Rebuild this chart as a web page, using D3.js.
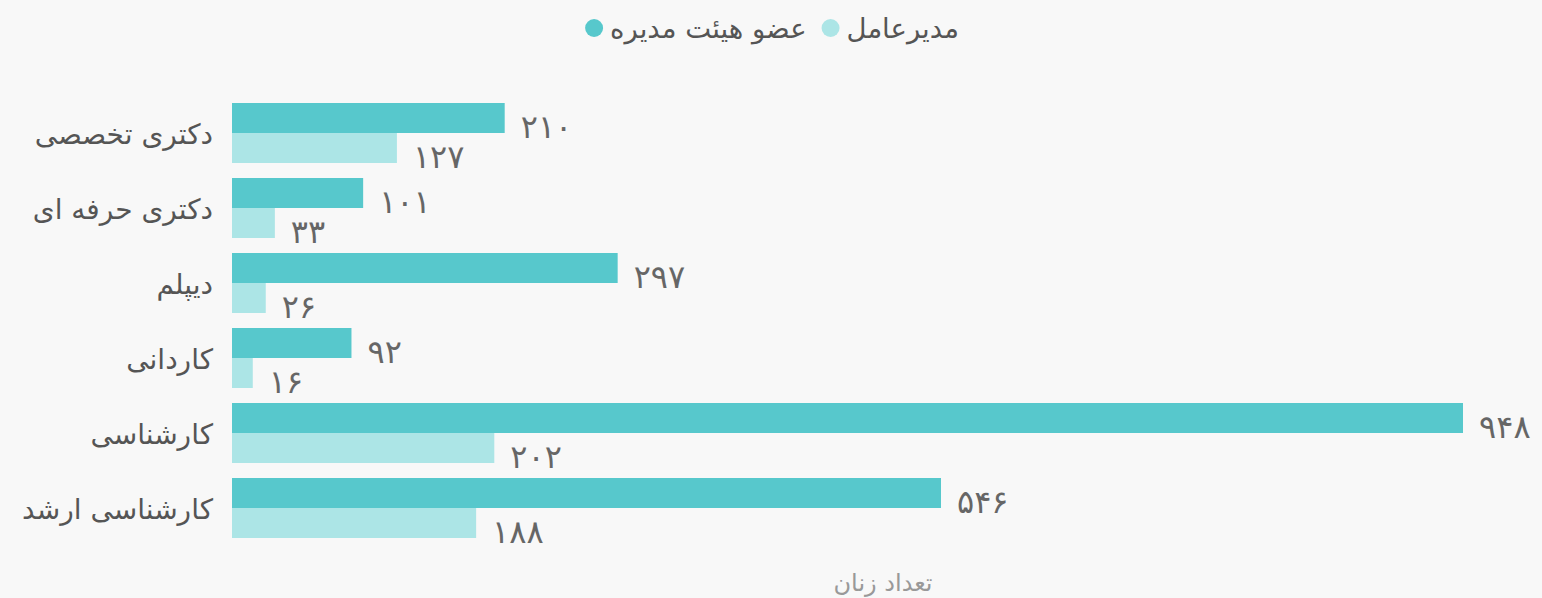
<!DOCTYPE html>
<html>
<head>
<meta charset="UTF-8">
<title>تعداد زنان</title>
<script src="https://cdn.jsdelivr.net/npm/d3@7"></script>
<style>
  html, body { margin: 0; padding: 0; background: #f8f8f8; }
  svg { display: block; font-family: "DejaVu Sans", sans-serif; }
</style>
</head>
<body>
<div id="chart"></div>
<script>

// data
var categories = ["دکتری تخصصی", "دکتری حرفه ای", "دیپلم", "کاردانی", "کارشناسی", "کارشناسی ارشد"]
var boardMembers = [210, 101, 297, 92, 948, 546]   // عضو هیئت مدیره
var ceos         = [127, 33, 26, 16, 202, 188]      // مدیرعامل
var seriesNames  = ["عضو هیئت مدیره", "مدیرعامل"]
var seriesColors = ["#57c8cc", "#ace5e6"]
var axisTitle    = "تعداد زنان"

var width = 1542, height = 598
var margin = {top: 103, right: 79, bottom: 60, left: 232}

// persian digits
function fa(n) {
  return String(n).replace(/\d/g, function(d) { return "۰۱۲۳۴۵۶۷۸۹"[+d]; })
}

var rows = categories.map(function(c, i) {
  return {cat: c, vals: [boardMembers[i], ceos[i]]}
})

var svg = d3.select("#chart").append("svg")
  .attr("width", width)
  .attr("height", height)

svg.append("rect").attr("width", width).attr("height", height).attr("fill", "#f8f8f8")

var g = svg.append("g")
  .attr("transform", "translate(" + margin.left + "," + margin.top + ")")

var x = d3.scaleLinear()
  .domain([0, 948])
  .range([0, 1463 - margin.left])

// step 75, group height 60
var y = d3.scaleBand()
  .domain(categories)
  .range([0, 75 * categories.length - 15])
  .paddingInner(0.2)
  .paddingOuter(0)

var y1 = d3.scaleBand()
  .domain([0, 1])
  .range([0, y.bandwidth()])

// category axis
var yAxis = g.append("g")
  .call(d3.axisLeft(y).tickSize(0).tickPadding(19))
yAxis.select(".domain").remove()
yAxis.selectAll("text")
  .attr("font-size", 28)
  .attr("fill", "#555")
  .attr("font-family", "DejaVu Sans, sans-serif")
  .attr("dy", "0.4em")

var groups = g.selectAll(".grp")
  .data(rows).enter()
  .append("g")
  .attr("class", "grp")
  .attr("transform", function(d) { return "translate(0," + y(d.cat) + ")" })

groups.selectAll("rect")
  .data(function(d) { return d.vals }).enter()
  .append("rect")
  .attr("x", 0)
  .attr("y", function(v, i) { return y1(i) })
  .attr("width", function(v) { return x(v) })
  .attr("height", y1.bandwidth())
  .attr("fill", function(v, i) { return seriesColors[i] })

groups.selectAll(".val")
  .data(function(d) { return d.vals }).enter()
  .append("text")
  .attr("class", "val")
  .attr("x", function(v) { return x(v) + 16 })
  .attr("y", function(v, i) { return y1(i) + y1.bandwidth() / 2 + 20 })
  .attr("font-size", 32)
  .attr("fill", "#666")
  .text(function(v) { return fa(v) })

// axis title
svg.append("text")
  .attr("x", 883)
  .attr("y", 591)
  .attr("text-anchor", "middle")
  .attr("font-size", 24)
  .attr("fill", "#999")
  .text(axisTitle)

// legend
var legend = svg.append("g")
var lx = 0
seriesNames.forEach(function(name, i) {
  var item = legend.append("g").attr("transform", "translate(" + lx + ",0)")
  item.append("circle")
    .attr("cx", 9).attr("cy", 0).attr("r", 9)
    .attr("fill", seriesColors[i])
  var t = item.append("text")
    .attr("x", 25).attr("y", 10)
    .attr("font-size", 27.5)
    .attr("fill", "#555")
    .text(name)
  lx += 25 + t.node().getComputedTextLength() + 15
})
var lw = lx - 15
legend.attr("transform", "translate(" + (772 - lw / 2) + ",28)")

</script>
</body>
</html>
